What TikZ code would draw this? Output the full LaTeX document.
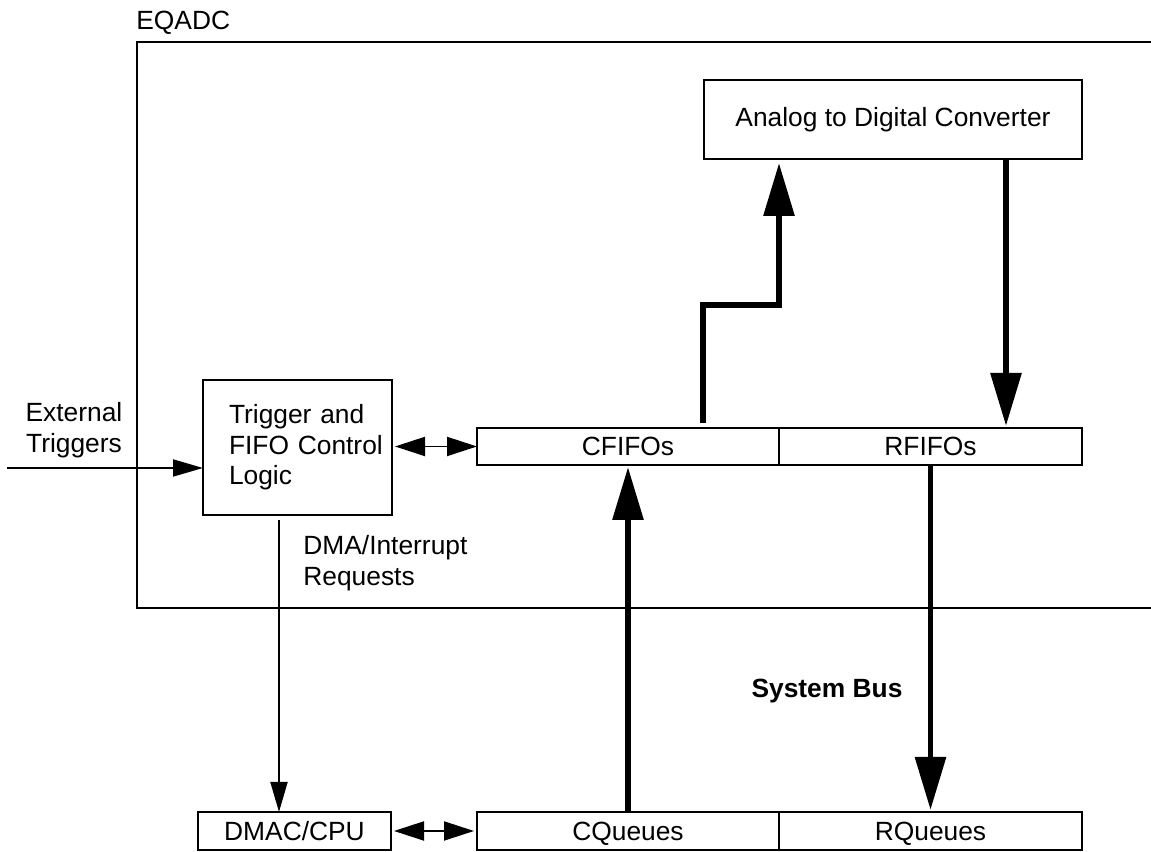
\documentclass[tikz,border=0pt]{standalone}
\usepackage{fontspec}
\setmainfont{Liberation Sans}
\usetikzlibrary{arrows.meta, positioning, calc}

\begin{document}
\begin{tikzpicture}[
    font=\fontsize{15}{17.4}\selectfont,
    blk/.style={draw, line width=1.1pt, inner sep=0pt, outer sep=0pt},
    bar/.style={blk, text depth=0pt},
    sig/.style={-{Triangle[length=0.6cm, width=0.34cm]}, line width=1.1pt},
    dbl/.style={{Triangle[length=0.6cm, width=0.38cm]}-{Triangle[length=0.6cm, width=0.38cm]}, line width=1.1pt},
    bus/.style={-{Triangle[length=1.06cm, width=0.6cm]}, line width=3.4pt}
  ]
  \useasboundingbox (0,0) rectangle (23.02,17.04);

  % EQADC frame
  \node[anchor=west, inner sep=0pt] (eqadc) at (2.72, 16.58) {EQADC};
  \draw[line width=1.1pt] (23.02,16.2) -| (2.74,4.88) -- (23.02,4.88);

  % Blocks inside
  \node[blk, minimum width=7.56cm, minimum height=1.58cm] (adc) at (17.86,14.65) {Analog to Digital Converter};
  \node[blk, minimum width=3.78cm, minimum height=2.7cm, text width=2.74cm, inner xsep=0.52cm, align=left] (trig) at (5.95,8.09) {\mbox{Trigger and}\\\mbox{FIFO Control}\\\mbox{Logic}};
  \node[bar, minimum width=6.04cm, minimum height=0.74cm] (cf) at (12.56,8.11) {CFIFOs};
  \node[bar, minimum width=6.06cm, minimum height=0.74cm, right=0pt of cf] (rf) {RFIFOs};

  % Outside
  \node[align=center] (ext) at (1.48, 8.44) {External\\Triggers};
  \node[align=left, anchor=west, inner sep=0pt] (dmareq) at (6.06,5.78) {DMA/Interrupt\\Requests};
  \node[font=\fontsize{15}{17.4}\selectfont\bfseries] (sysbus) at (16.54,3.22) {System Bus};
  \node[bar, minimum width=3.86cm, minimum height=0.76cm] (dmac) at (5.89,0.42) {DMAC/CPU};
  \node[bar, minimum width=6.04cm, minimum height=0.76cm] (cq) at (12.56,0.42) {CQueues};
  \node[bar, minimum width=6.06cm, minimum height=0.76cm, right=0pt of cq] (rq) {RQueues};

  % Control lines
  \coordinate (extin) at (0.14,7.68);
  \draw[sig] (extin) -- (extin -| trig.west);
  \draw[dbl, shorten <=0.06cm] (trig.east |- cf.west) -- (cf.west);
  \coordinate (dmatop) at (5.58,6.64);
  \draw[sig] (dmatop) -- (dmatop |- dmac.north);
  \draw[dbl, shorten <=0.06cm, shorten >=0.06cm] (dmac.east) -- (cq.west);

  % Data paths
  \coordinate (cup) at ($(cf.north east)+(-1.52,0.1)$);
  \draw[bus] (cup) -- ++(0,2.36) -| ([yshift=-0.08cm]adc.south -| cf.east);
  \draw[bus] ($(adc.south east)+(-1.52,0)$) -- ($(rf.north east)+(-1.52,0.04)$);
  \draw[bus] (rf.south) -- ([yshift=0.04cm]rq.north);
  \draw[bus] (cq.north) -- ([yshift=-0.04cm]cf.south);
\end{tikzpicture}
\end{document}
